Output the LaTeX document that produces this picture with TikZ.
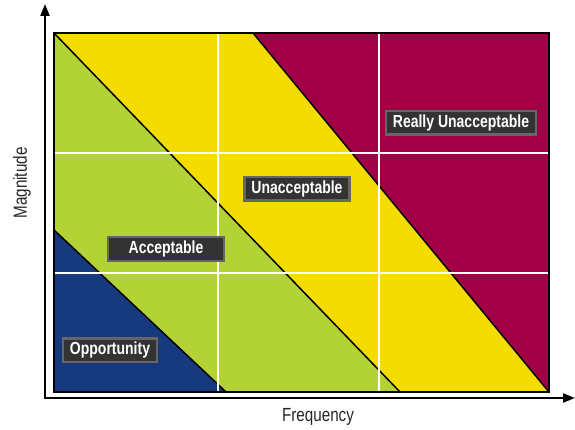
\documentclass[tikz,border=0pt]{standalone}
\usepackage{fontspec}
\setsansfont{Liberation Sans}[FakeStretch=0.8]
\usetikzlibrary{arrows.meta}

\definecolor{oppblue}{HTML}{173A7E}
\definecolor{accgreen}{HTML}{B3D235}
\definecolor{unaccyellow}{HTML}{F4DC00}
\definecolor{reallyred}{HTML}{A20046}

\begin{document}
\begin{tikzpicture}[x=1pt, y=-1pt,
    font=\sffamily,
    >={Triangle[length=12pt,width=9pt]},
    axis/.style={->, line width=2.2pt, black},
    zone/.style={draw=black, line width=1.5pt},
    gridline/.style={white, line width=2pt},
    tag/.style={fill=black!80, draw=black!60, line width=2.5pt, text=white,
        font=\sffamily\bfseries\fontsize{17.5}{17.5}\selectfont,
        inner xsep=7pt, minimum height=23.5pt},
    axlabel/.style={font=\sffamily\fontsize{19}{19}\selectfont, text=black!85}]

\useasboundingbox (0,0) rectangle (575,430);

% corners of the plot area
\coordinate (tl) at (54,33);
\coordinate (tr) at (549,33);
\coordinate (br) at (549,392);
\coordinate (bl) at (54,392);

% the four bands
\fill[oppblue] (54,230) -- (226,392) -- (bl) -- cycle;
\fill[accgreen] (tl) -- (400,392) -- (226,392) -- (54,230) -- cycle;
\fill[unaccyellow] (tl) -- (253,33) -- (br) -- (400,392) -- cycle;
\fill[reallyred] (253,33) -- (tr) -- (br) -- cycle;

% band edges
\draw[zone] (54,230) -- (226,392);
\draw[zone] (tl) -- (400,392);
\draw[zone] (253,33) -- (br);

% white grid
\foreach \gx in {218,379}
    \draw[gridline] (\gx,33) -- (\gx,392);
\foreach \gy in {153,273}
    \draw[gridline] (54,\gy) -- (549,\gy);

\draw[zone] (tl) rectangle (br);

% axes
\coordinate (origin) at (45,398);
\draw[axis] (44,398) -- (575,398);
\draw[axis] (origin) -- (45,4);
\node[axlabel] (freq) at (318,417) {Frequency};
\node[axlabel, rotate=90] (mag) at (22,183) {Magnitude};

% zone tags
\node[tag] (opp) at (110,350) {Opportunity};
\node[tag, minimum width=116pt] (acc) at (166,249) {Acceptable};
\node[tag] (unacc) at (297,189) {Unacceptable};
\node[tag] (really) at (461,123) {Really Unacceptable};

\end{tikzpicture}
\end{document}
